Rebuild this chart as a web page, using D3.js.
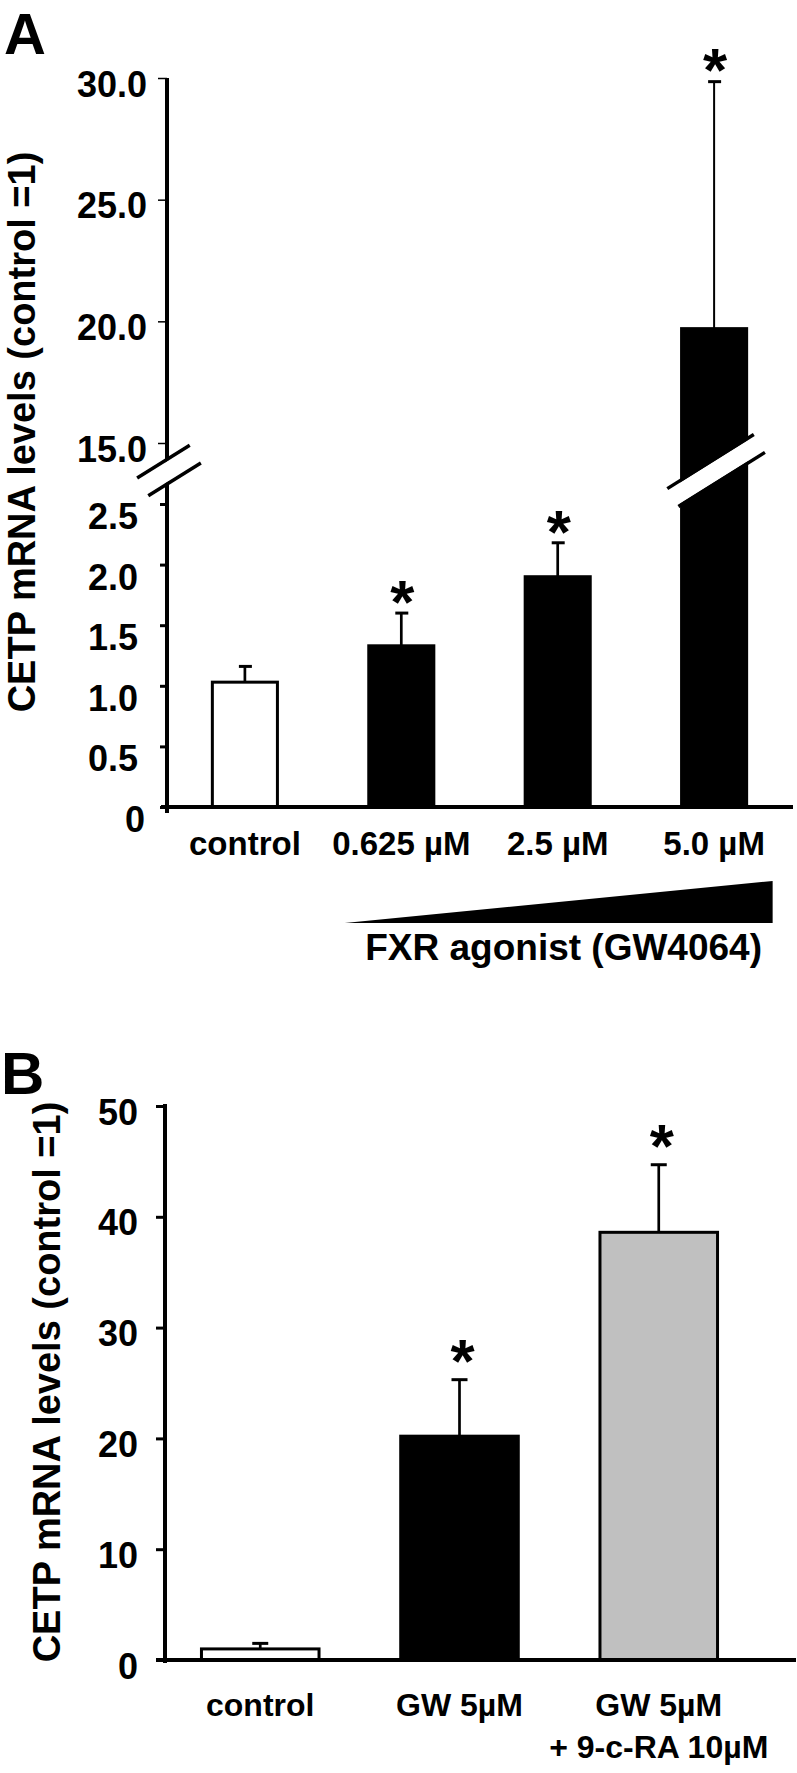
<!DOCTYPE html>
<html>
<head>
<meta charset="utf-8">
<script src="https://cdn.jsdelivr.net/npm/d3@7"></script>
<style>
  body { margin: 0; background: #fff; }
  text { font-family: "Liberation Sans", Arial, Helvetica, sans-serif; font-weight: bold; fill: #000; }
</style>
</head>
<body>
<div id="chart-area"></div>
<script>
// panel A - FXR agonist dose response
const categoriesA = ['control', '0.625 µM', '2.5 µM', '5.0 µM']
const meansA = [1.03, 1.33, 1.90, 19.7]
const errorsA = [0.13, 0.27, 0.28, 10.15]
const starsA = [false, true, true, true]
const lowerTicksA = [0, 0.5, 1.0, 1.5, 2.0, 2.5]
const upperTicksA = [15, 20, 25, 30]

// panel B - GW4064 with / without 9-cis RA
const categoriesB = ['control', 'GW 5µM', 'GW 5µM + 9-c-RA 10µM']
const labelsB = [['control'], ['GW 5µM'], ['GW 5µM', '+ 9-c-RA 10µM']]
const meansB = [1.0, 20.2, 38.6]
const errorsB = [0.5, 5.1, 6.1]
const starsB = [false, true, true]
const ticksB = [0, 10, 20, 30, 40, 50]

const svg = d3.select('#chart-area').append('svg')
    .attr('width', 797)
    .attr('height', 1773)

svg.append('rect').attr('width', 797).attr('height', 1773).attr('fill', '#fff')

function drawBreak(g, cx, cy, halfLen) {
    const a = -32 * Math.PI / 180
    const ux = Math.cos(a), uy = Math.sin(a)
    const px = -uy, py = ux
    const gap = 10.5
    g.append('line')
        .attr('x1', cx - ux * halfLen).attr('y1', cy - uy * halfLen)
        .attr('x2', cx + ux * halfLen).attr('y2', cy + uy * halfLen)
        .attr('stroke', '#fff')
        .attr('stroke-width', 2 * gap - 3)
    ;[-gap, gap].forEach(o => {
        g.append('line')
            .attr('x1', cx + px * o - ux * halfLen).attr('y1', cy + py * o - uy * halfLen)
            .attr('x2', cx + px * o + ux * halfLen).attr('y2', cy + py * o + uy * halfLen)
            .attr('stroke', '#000')
            .attr('stroke-width', 3.5)
    })
}

// ---------- panel A ----------
const dataA = categoriesA.map((c, i) => ({ cat: c, mean: meansA[i], err: errorsA[i], star: starsA[i] }))

const xA = d3.scaleBand()
    .domain(categoriesA)
    .range([167, 792])
    .paddingInner(0.584)
    .paddingOuter(0.29)

const yA = d3.scaleLinear()
    .domain([0, 2.5, 15, 30])
    .range([807, 504, 443, 78])

const gA = svg.append('g')

gA.append('text')
    .attr('x', 4)
    .attr('y', 54)
    .attr('font-size', '58px')
    .text('A')

gA.selectAll('rect.bar')
    .data(dataA).enter().append('rect')
    .attr('class', 'bar')
    .attr('x', d => xA(d.cat))
    .attr('y', d => yA(d.mean))
    .attr('width', xA.bandwidth())
    .attr('height', d => yA(0) - yA(d.mean))
    .attr('fill', d => d.cat === 'control' ? '#fff' : '#000')
    .attr('stroke', '#000')
    .attr('stroke-width', 3)

const errA = gA.selectAll('g.err')
    .data(dataA).enter().append('g')
    .attr('class', 'err')
    .attr('transform', d => `translate(${xA(d.cat) + xA.bandwidth() / 2}, 0)`)

errA.append('line')
    .attr('x1', 0).attr('x2', 0)
    .attr('y1', d => yA(d.mean))
    .attr('y2', d => yA(d.mean + d.err))
    .attr('stroke', '#000')
    .attr('stroke-width', d => d.err > 5 ? 2 : 2.7)

errA.append('line')
    .attr('x1', -6).attr('x2', 7)
    .attr('y1', d => yA(d.mean + d.err))
    .attr('y2', d => yA(d.mean + d.err))
    .attr('stroke', '#000')
    .attr('stroke-width', 3)

errA.filter(d => d.star).append('text')
    .attr('x', 1)
    .attr('y', d => yA(d.mean + d.err) - 25)
    .attr('dy', '0.56em')
    .attr('font-size', '62px')
    .attr('text-anchor', 'middle')
    .text('*')

// y axis with break
gA.append('line')
    .attr('x1', 167).attr('x2', 167)
    .attr('y1', yA(30)).attr('y2', yA(0) + 6)
    .attr('stroke', '#000')
    .attr('stroke-width', 4)

gA.append('line')
    .attr('x1', 161).attr('x2', 793)
    .attr('y1', yA(0)).attr('y2', yA(0))
    .attr('stroke', '#000')
    .attr('stroke-width', 4)

const lowerAxis = gA.append('g')
    .attr('transform', 'translate(167, 0)')
    .call(d3.axisLeft(yA).tickValues(lowerTicksA).tickSize(7).tickPadding(22)
        .tickFormat(d => d === 0 ? '0' : d3.format('.1f')(d)))
lowerAxis.select('.domain').remove()
lowerAxis.selectAll('line').attr('stroke-width', 3)
lowerAxis.selectAll('text')
    .attr('font-size', '36px')
    .attr('dy', '0.68em')
lowerAxis.selectAll('text').filter(d => d === 0).attr('dx', 7)

const upperAxis = gA.append('g')
    .attr('transform', 'translate(167, 0)')
    .call(d3.axisLeft(yA).tickValues(upperTicksA).tickSize(9).tickPadding(11)
        .tickFormat(d3.format('.1f')))
upperAxis.select('.domain').remove()
upperAxis.selectAll('line').attr('stroke-width', 1.5)
upperAxis.selectAll('text')
    .attr('font-size', '36px')
    .attr('dy', '0.5em')

const breakY = (yA(2.5) + yA(15)) / 2 - 3
drawBreak(gA, 169, breakY, 31)
drawBreak(gA, xA('5.0 µM') + xA.bandwidth() / 2 + 2, breakY, 51)

gA.selectAll('text.xlabel')
    .data(dataA).enter().append('text')
    .attr('class', 'xlabel')
    .attr('x', d => xA(d.cat) + xA.bandwidth() / 2)
    .attr('y', 855)
    .attr('font-size', '33px')
    .attr('text-anchor', 'middle')
    .text(d => d.cat)

// dose wedge
const wedgeLeft = xA('0.625 µM') - 24
const wedgeRight = xA('5.0 µM') + xA.bandwidth() + 26
gA.append('path')
    .attr('d', `M${wedgeLeft},923 L${wedgeRight},923 L${wedgeRight},881 Z`)
    .attr('fill', '#000')

gA.append('text')
    .attr('x', 762)
    .attr('y', 960)
    .attr('font-size', '37px')
    .attr('text-anchor', 'end')
    .text('FXR agonist (GW4064)')

gA.append('text')
    .attr('x', -432)
    .attr('y', 35)
    .attr('font-size', '38px')
    .attr('text-anchor', 'middle')
    .attr('transform', 'rotate(-90)')
    .text('CETP mRNA levels (control =1)')

// ---------- panel B ----------
const dataB = categoriesB.map((c, i) => ({ cat: c, lines: labelsB[i], mean: meansB[i], err: errorsB[i], star: starsB[i] }))

const xB = d3.scaleBand()
    .domain(categoriesB)
    .range([165, 754])
    .paddingInner(0.41)
    .paddingOuter(0.183)

const yB = d3.scaleLinear()
    .domain([0, 50])
    .range([1660, 1106])

const fillB = d3.scaleOrdinal()
    .domain(categoriesB)
    .range(['#fff', '#000', '#c0c0c0'])

const gB = svg.append('g')

gB.append('text')
    .attr('x', 1)
    .attr('y', 1094)
    .attr('font-size', '60px')
    .text('B')

gB.selectAll('rect.bar')
    .data(dataB).enter().append('rect')
    .attr('class', 'bar')
    .attr('x', d => xB(d.cat))
    .attr('y', d => yB(d.mean))
    .attr('width', xB.bandwidth())
    .attr('height', d => yB(0) - yB(d.mean))
    .attr('fill', d => fillB(d.cat))
    .attr('stroke', '#000')
    .attr('stroke-width', 3)

const errB = gB.selectAll('g.err')
    .data(dataB).enter().append('g')
    .attr('class', 'err')
    .attr('transform', d => `translate(${xB(d.cat) + xB.bandwidth() / 2}, 0)`)

errB.append('line')
    .attr('x1', 0).attr('x2', 0)
    .attr('y1', d => yB(d.mean))
    .attr('y2', d => yB(d.mean + d.err))
    .attr('stroke', '#000')
    .attr('stroke-width', 2.7)

errB.append('line')
    .attr('x1', -8).attr('x2', 8)
    .attr('y1', d => yB(d.mean + d.err))
    .attr('y2', d => yB(d.mean + d.err))
    .attr('stroke', '#000')
    .attr('stroke-width', 3)

errB.filter(d => d.star).append('text')
    .attr('x', 3)
    .attr('y', d => yB(d.mean + d.err) - 32)
    .attr('dy', '0.56em')
    .attr('font-size', '62px')
    .attr('text-anchor', 'middle')
    .text('*')

gB.append('line')
    .attr('x1', 165).attr('x2', 165)
    .attr('y1', yB(50) - 2).attr('y2', yB(0) + 3)
    .attr('stroke', '#000')
    .attr('stroke-width', 4)

gB.append('line')
    .attr('x1', 156).attr('x2', 796)
    .attr('y1', yB(0)).attr('y2', yB(0))
    .attr('stroke', '#000')
    .attr('stroke-width', 4)

const axisB = gB.append('g')
    .attr('transform', 'translate(165, 0)')
    .call(d3.axisLeft(yB).tickValues(ticksB).tickSize(9).tickPadding(18))
axisB.select('.domain').remove()
axisB.selectAll('line').attr('stroke-width', 3)
axisB.selectAll('text')
    .attr('font-size', '36px')
    .attr('dy', '0.5em')

const xLabB = gB.selectAll('text.xlabel')
    .data(dataB).enter().append('text')
    .attr('class', 'xlabel')
    .attr('font-size', '32px')
    .attr('text-anchor', 'middle')

xLabB.selectAll('tspan')
    .data(d => d.lines.map(l => ({ l, x: xB(d.cat) + xB.bandwidth() / 2 })))
    .enter().append('tspan')
    .attr('x', d => d.x)
    .attr('y', (d, i) => 1716 + i * 42)
    .text(d => d.l)

gB.append('text')
    .attr('x', -1382)
    .attr('y', 60)
    .attr('font-size', '38px')
    .attr('text-anchor', 'middle')
    .attr('transform', 'rotate(-90)')
    .text('CETP mRNA levels (control =1)')
</script>
</body>
</html>
